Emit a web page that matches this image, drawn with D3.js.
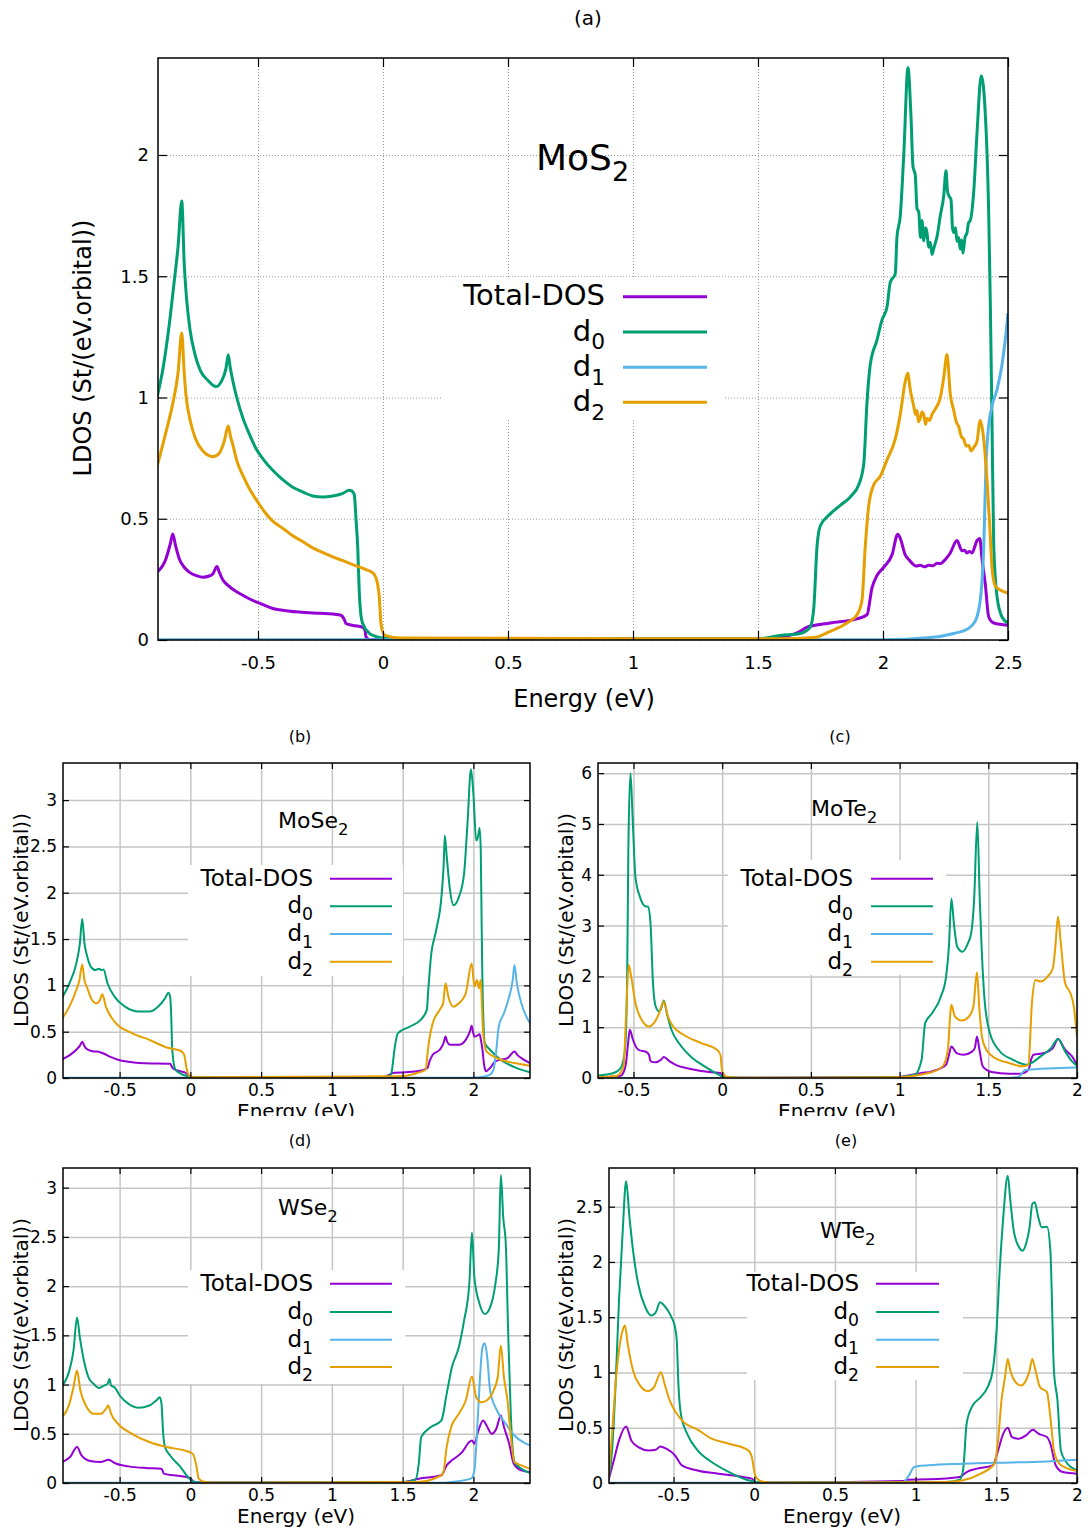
<!DOCTYPE html>
<html>
<head>
<meta charset="utf-8">
<script src="https://cdn.jsdelivr.net/npm/d3@7"></script>
<style>
  body { margin: 0; background: #fff; }
  svg { display: block; }
  text { font-family: "DejaVu Sans", sans-serif; fill: #000; }
</style>
</head>
<body>
<svg id="chart" width="1091" height="1528"></svg>
<script>
// ---- series metadata ----
const seriesLabels = [["Total-DOS"], ["d", "0"], ["d", "1"], ["d", "2"]];
const seriesColors = ["#9400d3", "#009e73", "#56b4e9", "#e69f00"];

// ---- tick values ----
const ticksA_x = [-0.5, 0, 0.5, 1, 1.5, 2, 2.5];
const ticksA_y = [0, 0.5, 1, 1.5, 2];
const ticksB_x = [-0.5, 0, 0.5, 1, 1.5, 2];
const ticksB_y = [0, 0.5, 1, 1.5, 2, 2.5, 3];
const ticksC_x = [-0.5, 0, 0.5, 1, 1.5, 2];
const ticksC_y = [0, 1, 2, 3, 4, 5, 6];
const ticksD_x = [-0.5, 0, 0.5, 1, 1.5, 2];
const ticksD_y = [0, 0.5, 1, 1.5, 2, 2.5, 3];
const ticksE_x = [-0.5, 0, 0.5, 1, 1.5, 2];
const ticksE_y = [0, 0.5, 1, 1.5, 2, 2.5];

// ---- MoS2: [energy (eV), LDOS] ----
const mos2Total = [[-0.904,0.28],[-0.87,0.33],[-0.85,0.40],[-0.841,0.437],[-0.83,0.39],[-0.815,0.335],[-0.795,0.30],[-0.775,0.28],[-0.745,0.265],[-0.721,0.259],[-0.695,0.264],[-0.681,0.272],[-0.664,0.303],[-0.655,0.28],[-0.641,0.248],[-0.62,0.225],[-0.601,0.209],[-0.57,0.19],[-0.535,0.17],[-0.49,0.15],[-0.441,0.13],[-0.38,0.12],[-0.335,0.115],[-0.25,0.11],[-0.201,0.107],[-0.168,0.102],[-0.155,0.085],[-0.148,0.068],[-0.12,0.06],[-0.081,0.052],[-0.072,0.04],[-0.068,0.013],[-0.055,0.002],[0.2,0.002],[1.5,0.002],[1.589,0.01],[1.669,0.036],[1.696,0.053],[1.789,0.07],[1.896,0.087],[1.936,0.104],[1.956,0.215],[1.976,0.266],[2.003,0.3],[2.036,0.351],[2.059,0.436],[2.069,0.419],[2.089,0.351],[2.105,0.33],[2.116,0.317],[2.13,0.305],[2.149,0.308],[2.165,0.302],[2.183,0.308],[2.2,0.306],[2.216,0.317],[2.23,0.315],[2.243,0.325],[2.256,0.34],[2.269,0.359],[2.296,0.41],[2.316,0.368],[2.326,0.37],[2.336,0.359],[2.346,0.365],[2.356,0.359],[2.376,0.41],[2.387,0.419],[2.396,0.334],[2.409,0.232],[2.423,0.095],[2.443,0.07],[2.5,0.061]];
const mos2D0 = [[-0.904,1.0],[-0.88,1.12],[-0.855,1.30],[-0.835,1.48],[-0.82,1.62],[-0.805,1.81],[-0.795,1.55],[-0.785,1.40],[-0.772,1.28],[-0.75,1.17],[-0.73,1.11],[-0.7,1.07],[-0.668,1.045],[-0.645,1.07],[-0.628,1.12],[-0.619,1.176],[-0.612,1.13],[-0.601,1.07],[-0.585,1.0],[-0.561,0.917],[-0.535,0.85],[-0.508,0.79],[-0.475,0.74],[-0.441,0.70],[-0.40,0.66],[-0.361,0.63],[-0.32,0.61],[-0.281,0.594],[-0.24,0.59],[-0.201,0.594],[-0.16,0.605],[-0.135,0.618],[-0.125,0.615],[-0.115,0.60],[-0.108,0.50],[-0.101,0.38],[-0.095,0.20],[-0.088,0.10],[-0.081,0.068],[-0.055,0.028],[-0.03,0.015],[-0.001,0.008],[0.1,0.005],[1.5,0.005],[1.589,0.019],[1.669,0.027],[1.709,0.053],[1.723,0.13],[1.736,0.385],[1.749,0.47],[1.789,0.52],[1.829,0.555],[1.869,0.59],[1.903,0.64],[1.923,0.726],[1.936,0.98],[1.949,1.135],[1.976,1.237],[1.996,1.32],[2.016,1.373],[2.029,1.475],[2.049,1.51],[2.056,1.663],[2.069,1.748],[2.083,2.0],[2.1,2.36],[2.112,2.157],[2.12,1.952],[2.129,1.918],[2.136,1.78],[2.143,1.765],[2.15,1.66],[2.156,1.73],[2.163,1.646],[2.17,1.70],[2.176,1.68],[2.182,1.62],[2.189,1.64],[2.196,1.59],[2.203,1.615],[2.21,1.64],[2.216,1.663],[2.229,1.748],[2.243,1.833],[2.252,1.935],[2.258,1.85],[2.263,1.833],[2.272,1.816],[2.278,1.70],[2.283,1.68],[2.29,1.70],[2.296,1.643],[2.303,1.66],[2.309,1.612],[2.315,1.65],[2.32,1.595],[2.328,1.66],[2.336,1.68],[2.342,1.72],[2.349,1.73],[2.363,1.85],[2.376,2.089],[2.393,2.327],[2.409,2.174],[2.423,1.748],[2.429,1.407],[2.436,0.896],[2.443,0.385],[2.456,0.18],[2.476,0.095],[2.5,0.07]];
const mos2D1 = [[-0.904,0.001],[2.0,0.001],[2.189,0.01],[2.283,0.027],[2.336,0.044],[2.369,0.078],[2.389,0.164],[2.403,0.385],[2.412,0.726],[2.419,0.845],[2.436,0.964],[2.456,1.032],[2.476,1.135],[2.489,1.237],[2.5,1.348]];
const mos2D2 = [[-0.904,0.715],[-0.87,0.85],[-0.84,0.98],[-0.82,1.10],[-0.805,1.266],[-0.795,1.10],[-0.788,1.01],[-0.77,0.90],[-0.75,0.83],[-0.721,0.78],[-0.68,0.756],[-0.655,0.77],[-0.635,0.82],[-0.619,0.882],[-0.61,0.84],[-0.601,0.807],[-0.585,0.74],[-0.561,0.68],[-0.535,0.625],[-0.508,0.58],[-0.475,0.53],[-0.441,0.49],[-0.40,0.46],[-0.361,0.43],[-0.32,0.405],[-0.281,0.38],[-0.24,0.36],[-0.201,0.343],[-0.16,0.327],[-0.121,0.311],[-0.068,0.29],[-0.041,0.277],[-0.028,0.256],[-0.015,0.178],[-0.008,0.068],[0.005,0.02],[0.07,0.008],[1.5,0.005],[1.589,0.005],[1.723,0.01],[1.789,0.036],[1.856,0.07],[1.896,0.104],[1.916,0.164],[1.929,0.385],[1.943,0.555],[1.963,0.64],[1.989,0.675],[2.016,0.743],[2.049,0.828],[2.069,0.93],[2.089,1.066],[2.099,1.1],[2.109,1.032],[2.123,0.964],[2.13,0.93],[2.136,0.947],[2.142,0.90],[2.149,0.913],[2.156,0.94],[2.163,0.93],[2.17,0.89],[2.176,0.913],[2.186,0.905],[2.196,0.93],[2.216,0.964],[2.229,0.998],[2.243,1.083],[2.256,1.177],[2.269,1.015],[2.283,0.947],[2.293,0.90],[2.303,0.879],[2.313,0.84],[2.323,0.828],[2.333,0.80],[2.343,0.802],[2.353,0.78],[2.363,0.794],[2.376,0.819],[2.389,0.905],[2.403,0.828],[2.416,0.658],[2.427,0.47],[2.436,0.3],[2.449,0.223],[2.469,0.206],[2.5,0.194]];

// ---- MoSe2 ----
const moseTotal = [[-0.904,0.204],[-0.85,0.25],[-0.806,0.305],[-0.78,0.35],[-0.764,0.39],[-0.75,0.35],[-0.732,0.312],[-0.7,0.292],[-0.683,0.287],[-0.66,0.285],[-0.634,0.276],[-0.609,0.262],[-0.56,0.225],[-0.511,0.197],[-0.44,0.175],[-0.364,0.161],[-0.25,0.156],[-0.167,0.154],[-0.143,0.154],[-0.13,0.12],[-0.118,0.097],[-0.069,0.072],[-0.032,0.054],[-0.015,0.03],[-0.007,0.011],[0.05,0.004],[1.356,0.007],[1.40,0.03],[1.43,0.054],[1.602,0.072],[1.676,0.108],[1.69,0.18],[1.713,0.251],[1.762,0.305],[1.79,0.38],[1.803,0.448],[1.815,0.39],[1.835,0.358],[1.897,0.358],[1.946,0.412],[1.975,0.5],[1.988,0.563],[1.998,0.49],[2.007,0.448],[2.025,0.455],[2.044,0.473],[2.052,0.42],[2.064,0.305],[2.075,0.15],[2.088,0.072],[2.118,0.108],[2.155,0.179],[2.192,0.197],[2.241,0.215],[2.29,0.287],[2.31,0.25],[2.339,0.215],[2.4,0.161]];
const moseD0 = [[-0.904,0.87],[-0.855,1.02],[-0.806,1.237],[-0.781,1.45],[-0.764,1.72],[-0.748,1.45],[-0.732,1.33],[-0.703,1.2],[-0.671,1.165],[-0.646,1.18],[-0.629,1.165],[-0.614,1.17],[-0.585,1.02],[-0.536,0.878],[-0.462,0.77],[-0.364,0.717],[-0.29,0.717],[-0.229,0.77],[-0.179,0.86],[-0.155,0.921],[-0.143,0.878],[-0.135,0.663],[-0.128,0.305],[-0.106,0.09],[-0.069,0.047],[-0.02,0.018],[0.03,0.004],[1.356,0.011],[1.40,0.02],[1.418,0.036],[1.43,0.15],[1.442,0.305],[1.467,0.484],[1.553,0.556],[1.627,0.627],[1.671,0.735],[1.681,0.95],[1.7,1.308],[1.737,1.595],[1.774,1.953],[1.79,2.3],[1.798,2.616],[1.81,2.419],[1.835,2.025],[1.86,1.864],[1.897,1.953],[1.934,2.204],[1.958,2.742],[1.983,3.333],[2.0,3.065],[2.02,2.563],[2.032,2.599],[2.044,2.699],[2.052,2.455],[2.058,1.7],[2.064,1.022],[2.081,0.376],[2.118,0.305],[2.192,0.197],[2.29,0.118],[2.4,0.061]];
const moseD1 = [[-0.904,0.002],[2.0,0.002],[2.044,0.007],[2.118,0.036],[2.142,0.09],[2.162,0.305],[2.179,0.556],[2.216,0.699],[2.253,0.878],[2.278,1.057],[2.29,1.219],[2.307,1.022],[2.339,0.806],[2.4,0.591]];
const moseD2 = [[-0.904,0.645],[-0.855,0.77],[-0.806,0.95],[-0.785,1.05],[-0.764,1.226],[-0.748,1.05],[-0.732,0.986],[-0.695,0.842],[-0.663,0.806],[-0.639,0.842],[-0.622,0.903],[-0.597,0.77],[-0.536,0.609],[-0.413,0.484],[-0.29,0.412],[-0.167,0.33],[-0.069,0.294],[-0.044,0.251],[-0.025,0.09],[-0.007,0.025],[0.03,0.007],[1.479,0.018],[1.602,0.054],[1.663,0.09],[1.675,0.25],[1.688,0.412],[1.713,0.591],[1.762,0.735],[1.786,0.806],[1.803,1.022],[1.823,0.878],[1.86,0.77],[1.897,0.806],[1.946,0.914],[1.988,1.237],[2.007,0.986],[2.025,1.057],[2.039,0.968],[2.052,1.057],[2.06,0.8],[2.069,0.484],[2.093,0.287],[2.167,0.215],[2.29,0.161],[2.4,0.133]];

// ---- MoTe2 ----
const moteTotal = [[-0.71,0.013],[-0.572,0.046],[-0.555,0.12],[-0.542,0.295],[-0.53,0.7],[-0.521,0.949],[-0.503,0.753],[-0.473,0.556],[-0.424,0.504],[-0.412,0.45],[-0.404,0.327],[-0.375,0.308],[-0.345,0.36],[-0.329,0.412],[-0.296,0.327],[-0.256,0.249],[-0.178,0.177],[-0.059,0.111],[-0.01,0.098],[0.01,0.013],[0.05,0.004],[0.966,0.013],[1.124,0.098],[1.183,0.131],[1.262,0.262],[1.278,0.45],[1.292,0.622],[1.321,0.491],[1.361,0.458],[1.41,0.524],[1.425,0.6],[1.436,0.818],[1.45,0.556],[1.469,0.229],[1.519,0.118],[1.617,0.085],[1.686,0.085],[1.726,0.164],[1.745,0.4],[1.755,0.458],[1.815,0.491],[1.864,0.589],[1.893,0.766],[1.933,0.556],[1.972,0.425],[2.0,0.262]];
const moteD0 = [[-0.71,0.046],[-0.611,0.098],[-0.572,0.196],[-0.548,0.556],[-0.536,1.865],[-0.529,4.48],[-0.517,6.0],[-0.505,5.14],[-0.489,3.96],[-0.464,3.57],[-0.434,3.38],[-0.418,3.37],[-0.404,3.04],[-0.39,1.865],[-0.375,1.407],[-0.355,1.31],[-0.341,1.407],[-0.329,1.525],[-0.312,1.276],[-0.286,0.949],[-0.237,0.654],[-0.178,0.425],[-0.099,0.229],[-0.02,0.065],[0.01,0.013],[0.1,0.004],[0.966,0.013],[1.085,0.065],[1.124,0.36],[1.144,1.08],[1.183,1.276],[1.233,1.603],[1.262,1.996],[1.278,2.585],[1.292,3.534],[1.306,3.043],[1.325,2.585],[1.355,2.487],[1.385,2.65],[1.404,2.86],[1.42,3.5],[1.438,5.04],[1.452,3.5],[1.463,2.52],[1.479,1.538],[1.509,0.884],[1.558,0.556],[1.637,0.36],[1.716,0.262],[1.795,0.425],[1.854,0.589],[1.893,0.766],[1.933,0.524],[1.972,0.327],[2.0,0.242]];
const moteD1 = [[-0.71,0.002],[1.6,0.002],[1.665,0.013],[1.71,0.16],[2.0,0.209]];
const moteD2 = [[-0.71,0.013],[-0.592,0.046],[-0.556,0.229],[-0.542,1.21],[-0.527,2.225],[-0.513,1.996],[-0.489,1.472],[-0.454,1.145],[-0.414,1.014],[-0.385,1.08],[-0.355,1.276],[-0.329,1.505],[-0.306,1.21],[-0.276,1.014],[-0.217,0.851],[-0.118,0.687],[-0.03,0.556],[-0.01,0.458],[0.0,0.131],[0.03,0.02],[0.1,0.004],[0.966,0.013],[1.164,0.098],[1.243,0.229],[1.272,0.556],[1.286,1.276],[1.292,1.44],[1.312,1.21],[1.351,1.132],[1.391,1.21],[1.416,1.407],[1.436,2.075],[1.45,1.342],[1.464,0.818],[1.489,0.556],[1.538,0.393],[1.617,0.295],[1.696,0.229],[1.726,0.262],[1.746,1.472],[1.765,1.93],[1.795,1.898],[1.834,1.996],[1.864,2.16],[1.878,2.585],[1.893,3.174],[1.909,2.65],[1.933,1.865],[1.963,1.669],[1.982,1.407],[2.0,0.818]];

// ---- WSe2 ----
const wseTotal = [[-0.904,0.213],[-0.85,0.264],[-0.801,0.365],[-0.769,0.28],[-0.708,0.223],[-0.634,0.213],[-0.577,0.236],[-0.536,0.203],[-0.437,0.169],[-0.315,0.152],[-0.204,0.145],[-0.187,0.095],[-0.118,0.078],[-0.007,0.054],[0.03,0.01],[0.1,0.004],[1.504,0.01],[1.614,0.044],[1.774,0.078],[1.811,0.179],[1.848,0.23],[1.921,0.314],[1.971,0.416],[1.99,0.432],[2.007,0.399],[2.032,0.517],[2.069,0.635],[2.093,0.584],[2.13,0.5],[2.162,0.551],[2.194,0.686],[2.216,0.568],[2.253,0.399],[2.285,0.196],[2.339,0.128],[2.4,0.111]];
const wseD0 = [[-0.904,0.99],[-0.855,1.142],[-0.826,1.345],[-0.801,1.682],[-0.781,1.48],[-0.757,1.277],[-0.72,1.074],[-0.683,1.007],[-0.646,0.966],[-0.609,0.99],[-0.585,1.007],[-0.572,1.057],[-0.56,0.99],[-0.536,0.973],[-0.499,0.889],[-0.437,0.804],[-0.364,0.764],[-0.29,0.787],[-0.241,0.838],[-0.216,0.872],[-0.204,0.804],[-0.192,0.5],[-0.179,0.365],[-0.143,0.28],[-0.069,0.162],[-0.007,0.044],[0.03,0.01],[0.1,0.004],[1.504,0.01],[1.59,0.034],[1.614,0.196],[1.631,0.466],[1.7,0.568],[1.774,0.635],[1.811,0.905],[1.848,1.176],[1.897,1.378],[1.934,1.649],[1.971,2.02],[1.99,2.544],[2.007,2.088],[2.044,1.818],[2.081,1.716],[2.118,1.784],[2.155,2.02],[2.179,2.358],[2.194,3.128],[2.211,2.696],[2.229,2.426],[2.246,1.514],[2.265,0.669],[2.29,0.213],[2.339,0.145],[2.4,0.101]];
const wseD1 = [[-0.904,0.002],[1.8,0.002],[1.848,0.01],[1.983,0.044],[2.007,0.128],[2.025,0.5],[2.044,1.007],[2.064,1.378],[2.081,1.419],[2.098,1.277],[2.118,0.939],[2.167,0.736],[2.229,0.601],[2.29,0.483],[2.351,0.416],[2.4,0.382]];
const wseD2 = [[-0.904,0.669],[-0.855,0.804],[-0.826,0.973],[-0.801,1.142],[-0.777,0.939],[-0.732,0.77],[-0.683,0.703],[-0.634,0.703],[-0.597,0.753],[-0.58,0.787],[-0.56,0.703],[-0.511,0.601],[-0.413,0.5],[-0.29,0.416],[-0.167,0.365],[-0.044,0.331],[0.017,0.297],[0.042,0.179],[0.059,0.044],[0.103,0.01],[0.2,0.004],[1.602,0.01],[1.749,0.061],[1.786,0.095],[1.811,0.365],[1.843,0.568],[1.897,0.703],[1.946,0.838],[1.99,1.081],[2.02,0.872],[2.057,0.821],[2.093,0.838],[2.142,0.939],[2.172,1.074],[2.194,1.395],[2.216,1.074],[2.241,0.838],[2.265,0.466],[2.29,0.213],[2.339,0.179],[2.4,0.145]];

// ---- WTe2 ----
const wteTotal = [[-0.903,0.024],[-0.87,0.205],[-0.838,0.386],[-0.794,0.512],[-0.762,0.386],[-0.719,0.325],[-0.654,0.295],[-0.61,0.301],[-0.582,0.331],[-0.545,0.31],[-0.491,0.25],[-0.448,0.16],[-0.372,0.12],[-0.221,0.084],[-0.069,0.054],[-0.015,0.039],[0.006,0.009],[0.1,0.004],[0.926,0.018],[0.948,0.03],[1.078,0.033],[1.273,0.054],[1.316,0.099],[1.381,0.13],[1.478,0.16],[1.511,0.295],[1.543,0.446],[1.571,0.5],[1.597,0.416],[1.641,0.4],[1.684,0.431],[1.727,0.482],[1.76,0.446],[1.814,0.416],[1.835,0.355],[1.868,0.16],[1.911,0.099],[2.0,0.084]];
const wteD0 = [[-0.903,0.039],[-0.881,0.295],[-0.859,0.898],[-0.838,1.651],[-0.816,2.253],[-0.794,2.729],[-0.773,2.404],[-0.751,2.102],[-0.719,1.801],[-0.675,1.59],[-0.639,1.515],[-0.61,1.545],[-0.584,1.636],[-0.567,1.62],[-0.535,1.56],[-0.513,1.5],[-0.491,1.41],[-0.48,1.289],[-0.47,0.898],[-0.455,0.627],[-0.416,0.446],[-0.351,0.295],[-0.264,0.19],[-0.156,0.099],[-0.048,0.03],[0.017,0.009],[0.1,0.004],[1.186,0.009],[1.273,0.03],[1.294,0.114],[1.316,0.536],[1.348,0.687],[1.403,0.777],[1.446,0.867],[1.478,1.018],[1.5,1.349],[1.522,1.952],[1.543,2.404],[1.571,2.78],[1.587,2.554],[1.608,2.283],[1.641,2.133],[1.662,2.102],[1.684,2.163],[1.706,2.313],[1.723,2.524],[1.738,2.539],[1.76,2.404],[1.781,2.313],[1.814,2.319],[1.835,2.102],[1.857,1.018],[1.879,0.747],[1.9,0.295],[1.933,0.19],[2.0,0.114]];
const wteD1 = [[-0.903,0.002],[0.9,0.002],[0.926,0.009],[0.959,0.069],[0.991,0.145],[1.078,0.16],[1.294,0.175],[1.511,0.184],[1.727,0.19],[2.0,0.211]];
const wteD2 = [[-0.903,0.039],[-0.881,0.446],[-0.859,0.898],[-0.838,1.199],[-0.816,1.38],[-0.801,1.425],[-0.784,1.259],[-0.751,1.018],[-0.708,0.883],[-0.658,0.831],[-0.621,0.867],[-0.578,1.003],[-0.556,0.898],[-0.524,0.747],[-0.48,0.627],[-0.437,0.551],[-0.351,0.482],[-0.264,0.401],[-0.156,0.355],[-0.037,0.295],[-0.015,0.235],[0.006,0.069],[0.039,0.018],[0.1,0.004],[1.186,0.009],[1.294,0.024],[1.403,0.084],[1.489,0.175],[1.511,0.386],[1.532,0.747],[1.554,0.958],[1.571,1.123],[1.587,1.018],[1.619,0.913],[1.652,0.883],[1.684,0.928],[1.706,1.018],[1.723,1.123],[1.738,1.048],[1.771,0.867],[1.814,0.822],[1.835,0.596],[1.857,0.295],[1.89,0.175],[1.944,0.13],[2.0,0.108]];

// ---- layout of the five panels ----
const big = { tickFont: 18, tickLen: 9, xPad: 16.7, yPad: 9, labelFont: 24, lw: 3,
  grid: { color: "#9a9a9a", width: 1, dash: "1,2" } };
const small = { tickFont: 17, tickLen: 6, xPad: 6, yPad: 6, labelFont: 20, lw: 2,
  grid: { color: "#c6c6c6", width: 1.5, dash: null } };

const panels = [
  { style: big, box: [158, 58, 1008, 640], xDom: [-0.9, 2.5], yDom: [0, 2.4],
    xTicks: ticksA_x, yTicks: ticksA_y, data: [mos2Total, mos2D0, mos2D1, mos2D2],
    tag: { text: "(a)", x: 588, y: 25, size: 20 },
    title: { parts: ["MoS", "2"], x: 536, y: 170, size: 36 },
    xLabel: { x: 584, y: 707 }, yLabel: { x: 91, y: 348 },
    legend: { right: 605, x1: 623, x2: 707, rows: [296.7, 332, 367.3, 402.3], size: 29, box: [442, 277, 725, 418] },
    clip: null },
  { style: small, box: [63, 763, 530, 1078], xDom: [-0.9, 2.4], yDom: [0, 3.4],
    xTicks: ticksB_x, yTicks: ticksB_y, data: [moseTotal, moseD0, moseD1, moseD2],
    tag: { text: "(b)", x: 300, y: 742, size: 16 },
    title: { parts: ["MoSe", "2"], x: 278, y: 828, size: 22 },
    xLabel: { x: 296, y: 1118 }, yLabel: { x: 28, y: 920 },
    legend: { right: 313, x1: 330, x2: 392, rows: [878.7, 906.3, 934, 961.7], size: 23, box: [188, 865, 403, 976] },
    clip: [0, 725, 545, 391] },
  { style: small, box: [598, 763, 1077, 1078], xDom: [-0.7, 2.0], yDom: [0, 6.2],
    xTicks: ticksC_x, yTicks: ticksC_y, data: [moteTotal, moteD0, moteD1, moteD2],
    tag: { text: "(c)", x: 840, y: 742, size: 16 },
    title: { parts: ["MoTe", "2"], x: 811, y: 816, size: 22 },
    xLabel: { x: 837, y: 1118 }, yLabel: { x: 573, y: 920 },
    legend: { right: 853, x1: 871, x2: 933, rows: [878.7, 906.3, 934, 961.7], size: 23, box: [728, 860, 946, 975] },
    clip: [545, 725, 546, 391] },
  { style: small, box: [63, 1168, 530, 1483], xDom: [-0.9, 2.4], yDom: [0, 3.2],
    xTicks: ticksD_x, yTicks: ticksD_y, data: [wseTotal, wseD0, wseD1, wseD2],
    tag: { text: "(d)", x: 300, y: 1146, size: 16 },
    title: { parts: ["WSe", "2"], x: 278, y: 1215, size: 22 },
    xLabel: { x: 296, y: 1523 }, yLabel: { x: 28, y: 1325 },
    legend: { right: 313, x1: 330, x2: 392, rows: [1283.7, 1312, 1339.7, 1367], size: 23, box: [188, 1270, 405, 1384] },
    clip: null },
  { style: small, box: [609, 1168, 1077, 1483], xDom: [-0.9, 2.0], yDom: [0, 2.85],
    xTicks: ticksE_x, yTicks: ticksE_y, data: [wteTotal, wteD0, wteD1, wteD2],
    tag: { text: "(e)", x: 846, y: 1146, size: 16 },
    title: { parts: ["WTe", "2"], x: 820, y: 1238, size: 22 },
    xLabel: { x: 842, y: 1523 }, yLabel: { x: 573, y: 1325 },
    legend: { right: 859, x1: 876, x2: 939, rows: [1283.7, 1312, 1339.7, 1367], size: 23, box: [747, 1272, 963, 1380] },
    clip: null }
];

const svg = d3.select("#chart");
const fmt = d => String(d);

// text with an optional subscript part
function richText(sel, parts, size) {
  sel.append("tspan").text(parts[0]);
  if (parts.length > 1) {
    sel.append("tspan").attr("font-size", size * 0.75).attr("dy", size * 0.3).text(parts[1]);
  }
}

function styleAxis(g, st, withText) {
  g.select(".domain").remove();
  g.selectAll(".tick line").attr("stroke", "#000").attr("stroke-width", 1.2);
  g.attr("font-family", null).attr("font-size", st.tickFont);
  if (!withText) g.selectAll(".tick text").remove();
  else g.selectAll(".tick text").attr("fill", "#000");
}

panels.forEach((p, i) => {
  const st = p.style;
  const [L, T, R, B] = p.box;
  const x = d3.scaleLinear().domain(p.xDom).range([L, R]);
  const y = d3.scaleLinear().domain(p.yDom).range([B, T]);

  const g = svg.append("g");
  if (p.clip) {
    const cid = "panel-clip-" + i;
    svg.append("clipPath").attr("id", cid).append("rect")
      .attr("x", p.clip[0]).attr("y", p.clip[1]).attr("width", p.clip[2]).attr("height", p.clip[3]);
    g.attr("clip-path", `url(#${cid})`);
  }

  // grid
  const gx = g.append("g").attr("transform", `translate(0,${B})`)
    .call(d3.axisBottom(x).tickValues(p.xTicks).tickSize(-(B - T)).tickFormat(""));
  const gy = g.append("g").attr("transform", `translate(${L},0)`)
    .call(d3.axisLeft(y).tickValues(p.yTicks).tickSize(-(R - L)).tickFormat(""));
  [gx, gy].forEach(a => {
    a.select(".domain").remove();
    a.selectAll(".tick text").remove();
    a.selectAll(".tick line").attr("stroke", st.grid.color).attr("stroke-width", st.grid.width)
      .attr("stroke-dasharray", st.grid.dash);
  });

  // opaque key background
  const lg = p.legend;
  g.append("rect").attr("x", lg.box[0]).attr("y", lg.box[1])
    .attr("width", lg.box[2] - lg.box[0]).attr("height", lg.box[3] - lg.box[1]).attr("fill", "#fff");

  // curves
  const pid = "plot-clip-" + i;
  svg.append("clipPath").attr("id", pid).append("rect")
    .attr("x", L).attr("y", T).attr("width", R - L).attr("height", B - T);
  const line = d3.line().x(d => x(d[0])).y(d => y(d[1])).curve(d3.curveMonotoneX);
  const curves = g.append("g").attr("clip-path", `url(#${pid})`);
  p.data.forEach((s, k) => {
    curves.append("path").datum(s).attr("d", line).attr("fill", "none")
      .attr("stroke", seriesColors[k]).attr("stroke-width", st.lw).attr("stroke-linejoin", "round");
  });

  // tick marks on all four sides, labels on bottom and left
  const ax = g.append("g").attr("transform", `translate(0,${B})`)
    .call(d3.axisBottom(x).tickValues(p.xTicks).tickSize(-st.tickLen).tickPadding(st.xPad).tickFormat(fmt));
  styleAxis(ax, st, true);
  const ay = g.append("g").attr("transform", `translate(${L},0)`)
    .call(d3.axisLeft(y).tickValues(p.yTicks).tickSize(-st.tickLen).tickPadding(st.yPad).tickFormat(fmt));
  styleAxis(ay, st, true);
  const at = g.append("g").attr("transform", `translate(0,${T})`)
    .call(d3.axisTop(x).tickValues(p.xTicks).tickSize(-st.tickLen));
  styleAxis(at, st, false);
  const ar = g.append("g").attr("transform", `translate(${R},0)`)
    .call(d3.axisRight(y).tickValues(p.yTicks).tickSize(-st.tickLen));
  styleAxis(ar, st, false);

  // frame
  g.append("rect").attr("x", L).attr("y", T).attr("width", R - L).attr("height", B - T)
    .attr("fill", "none").attr("stroke", "#000").attr("stroke-width", 1.5);

  // axis titles
  g.append("text").attr("x", p.xLabel.x).attr("y", p.xLabel.y).attr("text-anchor", "middle")
    .attr("font-size", st.labelFont).text("Energy (eV)");
  g.append("text").attr("transform", `translate(${p.yLabel.x},${p.yLabel.y}) rotate(-90)`)
    .attr("text-anchor", "middle").attr("font-size", st.labelFont).text("LDOS (St/(eV.orbital))");

  // compound name
  const tt = g.append("text").attr("x", p.title.x).attr("y", p.title.y).attr("font-size", p.title.size);
  richText(tt, p.title.parts, p.title.size);

  // key
  seriesLabels.forEach((lab, k) => {
    const ry = lg.rows[k];
    const t = g.append("text").attr("x", lg.right).attr("y", ry + lg.size * 0.3)
      .attr("text-anchor", "end").attr("font-size", lg.size);
    richText(t, lab, lg.size);
    g.append("line").attr("x1", lg.x1).attr("x2", lg.x2).attr("y1", ry).attr("y2", ry)
      .attr("stroke", seriesColors[k]).attr("stroke-width", st.lw);
  });

  // panel tag
  svg.append("text").attr("x", p.tag.x).attr("y", p.tag.y).attr("text-anchor", "middle")
    .attr("font-size", p.tag.size).text(p.tag.text);
});
</script>
</body>
</html>
